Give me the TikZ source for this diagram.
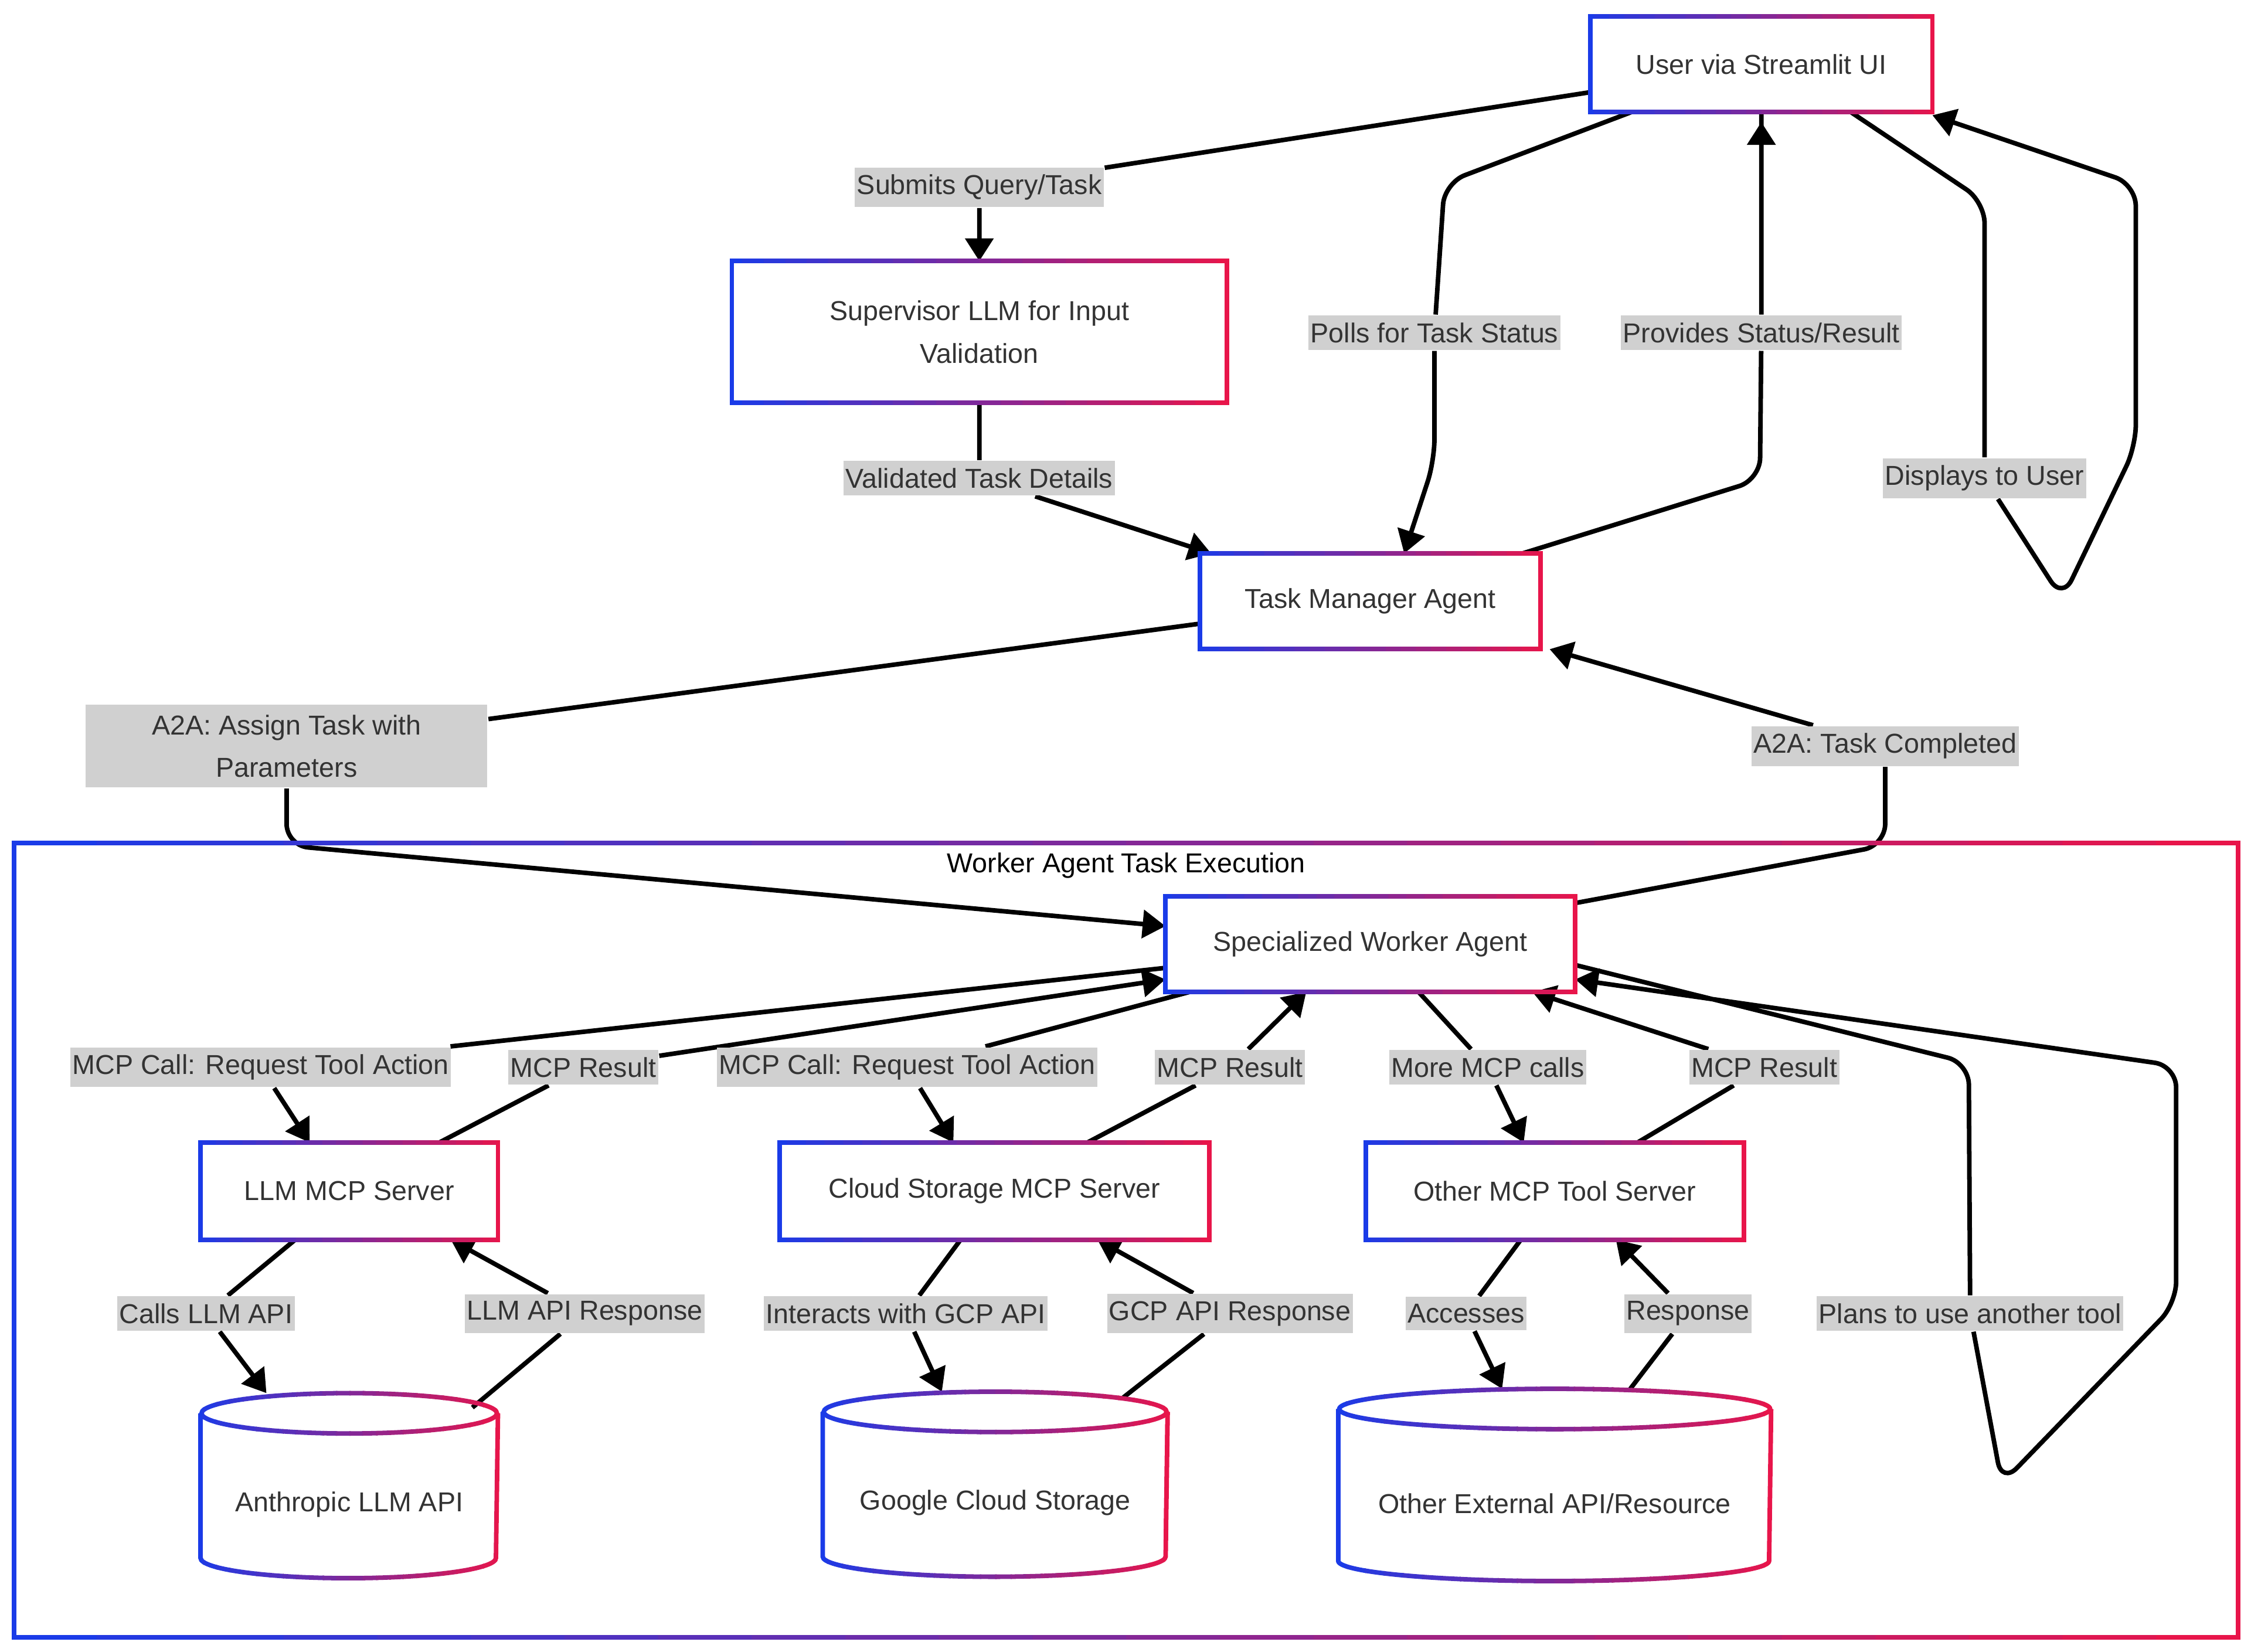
\documentclass[tikz,border=0pt]{standalone}
\usepackage{fontspec}
\setmainfont{Liberation Sans}
\usetikzlibrary{arrows.meta}
\usetikzlibrary{calc}
\definecolor{gblue}{HTML}{1A3BE8}
\definecolor{gred}{HTML}{E8154A}
\definecolor{lblgray}{HTML}{D0D0D0}
\definecolor{txt}{HTML}{333333}
\pgfdeclarelayer{bg}
\pgfsetlayers{bg,main}

% stroke a path in left-to-right blue->red strips
\newcommand{\gradstroke}[2]{%
  \foreach \i in {0,...,23}{%
    \pgfmathsetmacro\pc{100-\i*100/23}%
    \colorlet{gc}{gblue!\pc!gred}%
    \begin{scope}
      \clip let \p1=($(#1.south west)+(-8,20)$), \p2=($(#1.north east)+(8,-20)$) in
        ({\x1+\i*(\x2-\x1)/24},\y1) rectangle ({\x1+(\i+1)*(\x2-\x1)/24+0.3pt},\y2);
      #2
    \end{scope}}}
\newcommand{\gradbox}[1]{\gradstroke{#1}{\draw[line width=0.9pt,gc] (#1.south west) rectangle (#1.north east);}}
\newcommand{\gradcyl}[2]{\gradstroke{#1}{%
  \draw[line width=0.9pt,gc] ([yshift=-0.14cm]#1.north west) -- ([yshift=0.14cm]#1.south west)
    arc[start angle=180,end angle=360,x radius=#2,y radius=0.14cm]
    -- ([yshift=-0.14cm]#1.north east);
  \draw[line width=0.9pt,gc] ([yshift=-0.14cm]#1.north) ellipse[x radius=#2,y radius=0.14cm];}}

\begin{document}
\begin{tikzpicture}[x=0.01cm,y=-0.01cm,
    font=\fontsize{5.4}{8.4}\selectfont, text=txt,
    box/.style={minimum height=0.65cm, align=center, inner sep=0pt},
    cyl/.style={minimum height=1.27cm, align=center, inner sep=0pt},
    lbl/.style={fill=lblgray, inner xsep=0.4pt, inner ysep=1.4pt, align=center},
    edge/.style={line width=0.9pt, rounded corners=0.15cm},
    arr/.style={edge, -{Triangle[length=4.5pt,width=5.5pt]}}]
  \useasboundingbox (0,0) rectangle (1563,1147);

  % main nodes
  \node[box, minimum width=2.36cm] (user) at (1223,44.5) {User via Streamlit UI};
  \node[box, minimum width=3.42cm, minimum height=0.97cm] (sup) at (680,230.5) {Supervisor LLM for Input\\Validation};
  \node[box, minimum width=2.35cm] (tm) at (951.5,417.5) {Task Manager Agent};
  \node[minimum width=15.42cm, minimum height=5.5cm, inner sep=0pt] (cl) at (782,861) {};
  \node[text=black] (cltitle) at (782,601) {Worker Agent Task Execution};
  \node[box, minimum width=2.83cm] (worker) at (951.5,655.5) {Specialized Worker Agent};
  \node[box, minimum width=2.05cm, minimum height=0.66cm] (llm) at (242.5,827) {LLM MCP Server};
  \node[box, minimum width=2.97cm, minimum height=0.66cm] (cloud) at (690.5,827) {Cloud Storage MCP Server};
  \node[box, minimum width=2.61cm, minimum height=0.66cm] (other) at (1079.5,827) {Other MCP Tool Server};
  \node[cyl, minimum width=2.05cm] (anth) at (242.5,1031.5) {\\[0.1cm]Anthropic LLM API};
  \node[cyl, minimum width=2.38cm] (gcs) at (691,1030.5) {\\[0.1cm]Google Cloud Storage};
  \node[cyl, minimum width=2.99cm, minimum height=1.32cm] (ext) at (1079.5,1031) {\\[0.1cm]Other External API/Resource};

  \gradbox{user} \gradbox{sup} \gradbox{tm} \gradbox{cl}
  \gradbox{worker} \gradbox{llm} \gradbox{cloud} \gradbox{other}
  \gradcyl{anth}{1.025cm} \gradcyl{gcs}{1.19cm} \gradcyl{ext}{1.495cm}

  % labels
  \node[lbl] (lsubmit) at (680,130) {Submits Query/Task};
  \node[lbl] (lpoll) at (996,231) {Polls for Task Status};
  \node[lbl] (lprov) at (1223,231) {Provides Status/Result};
  \node[lbl] (lvalid) at (680,332) {Validated Task Details};
  \node[lbl] (ldisp) at (1378,332) {Displays to User};
  \node[lbl, inner xsep=0.46cm, inner ysep=2pt] (lassign) at (199,518) {A2A: Assign Task with\\Parameters};
  \node[lbl] (ldone) at (1309,518) {A2A: Task Completed};
  \node[lbl] (lcall1) at (181,741) {MCP Call: Request Tool Action};
  \node[lbl] (lres1) at (405,741) {MCP Result};
  \node[lbl] (lcall2) at (630,741) {MCP Call: Request Tool Action};
  \node[lbl] (lres2) at (854,741) {MCP Result};
  \node[lbl] (lmore) at (1033,741) {More MCP calls};
  \node[lbl] (lres3) at (1225,741) {MCP Result};
  \node[lbl] (lcalls) at (143,912) {Calls LLM API};
  \node[lbl] (lllmr) at (406,912) {LLM API Response};
  \node[lbl] (lgcp) at (629,912) {Interacts with GCP API};
  \node[lbl] (lgcpr) at (854,912) {GCP API Response};
  \node[lbl] (lacc) at (1018,912) {Accesses};
  \node[lbl] (lresp) at (1172,912) {Response};
  \node[lbl] (lplan) at (1368,912) {Plans to use another tool};

  % bends
  \coordinate (p1) at (1003,127);
  \coordinate (p2) at (996,320);
  \coordinate (p3) at (1222,333);
  \coordinate (d1) at (1378,140);
  \coordinate (d2) at (1432,416);
  \coordinate (d3) at (1483,310);
  \coordinate (d4) at (1483,128);
  \coordinate (a1) at (199,587);
  \coordinate (c1) at (1309,587);
  \coordinate (q1) at (1367,738);
  \coordinate (q2) at (1390,1030);
  \coordinate (q3) at (1511,905);
  \coordinate (q4) at (1511,740);

  \begin{pgfonlayer}{bg}
    \draw[arr] (user.west |- 0,64) -- (lsubmit) -- (sup.north);
    \draw[arr] (user.south west -| 1133,0) -- (p1) -- (lpoll) -- (p2) -- (tm.north -| 975,0);
    \draw[arr] (tm.north east -| 1057,0) -- (p3) -- (lprov) -- (user.south -| 1223,0) ++(0,7);
    \draw[arr] (sup.south) -- (lvalid) -- (tm.north west -| 841,0);
    \draw[arr] (user.south east -| 1285,0) -- (d1) -- (ldisp) -- (d2) -- (d3) -- (d4) -- (user.south east |- 0,80);
    \draw[arr] (tm.west |- 0,433) -- (lassign) -- (a1) -- (worker.west |- 0,643);
    \draw[arr] (worker.east |- 0,627) -- (c1) -- (ldone) -- (tm.south east -| 1076,0);
    \draw[arr] (worker.west |- 0,672) -- (lcall1) -- (llm.north -| 215,0);
    \draw[arr] (llm.north east -| 305,0) -- (lres1) -- (worker.west |- 0,680);
    \draw[arr] (worker.south west -| 826,0) -- (lcall2) -- (cloud.north -| 662,0);
    \draw[arr] (cloud.north east -| 755,0) -- (lres2) -- (worker.south -| 907,0);
    \draw[arr] (worker.south -| 985,0) -- (lmore) -- (other.north -| 1058,0);
    \draw[arr] (other.north -| 1137,0) -- (lres3) -- (worker.south -| 1064,0);
    \draw[arr] (worker.east |- 0,670) -- (q1) -- (lplan) -- (q2) -- (q3) -- (q4) -- (worker.east |- 0,680);
    \draw[arr] (llm.south -| 205,0) -- (lcalls) -- (anth.north -| 185,0);
    \draw[arr] (anth.north east -| 328,0) ++(0,10) -- (lllmr) -- (llm.south -| 313,0);
    \draw[arr] (cloud.south -| 667,0) -- (lgcp) -- (gcs.north -| 654,0);
    \draw[arr] (gcs.north -| 780,0) ++(0,4) -- (lgcpr) -- (cloud.south -| 762,0);
    \draw[arr] (other.south -| 1056,0) -- (lacc) -- (ext.north -| 1043,0);
    \draw[arr] (ext.north -| 1132,0) -- (lresp) -- (other.south -| 1122,0);
  \end{pgfonlayer}
\end{tikzpicture}
\end{document}
